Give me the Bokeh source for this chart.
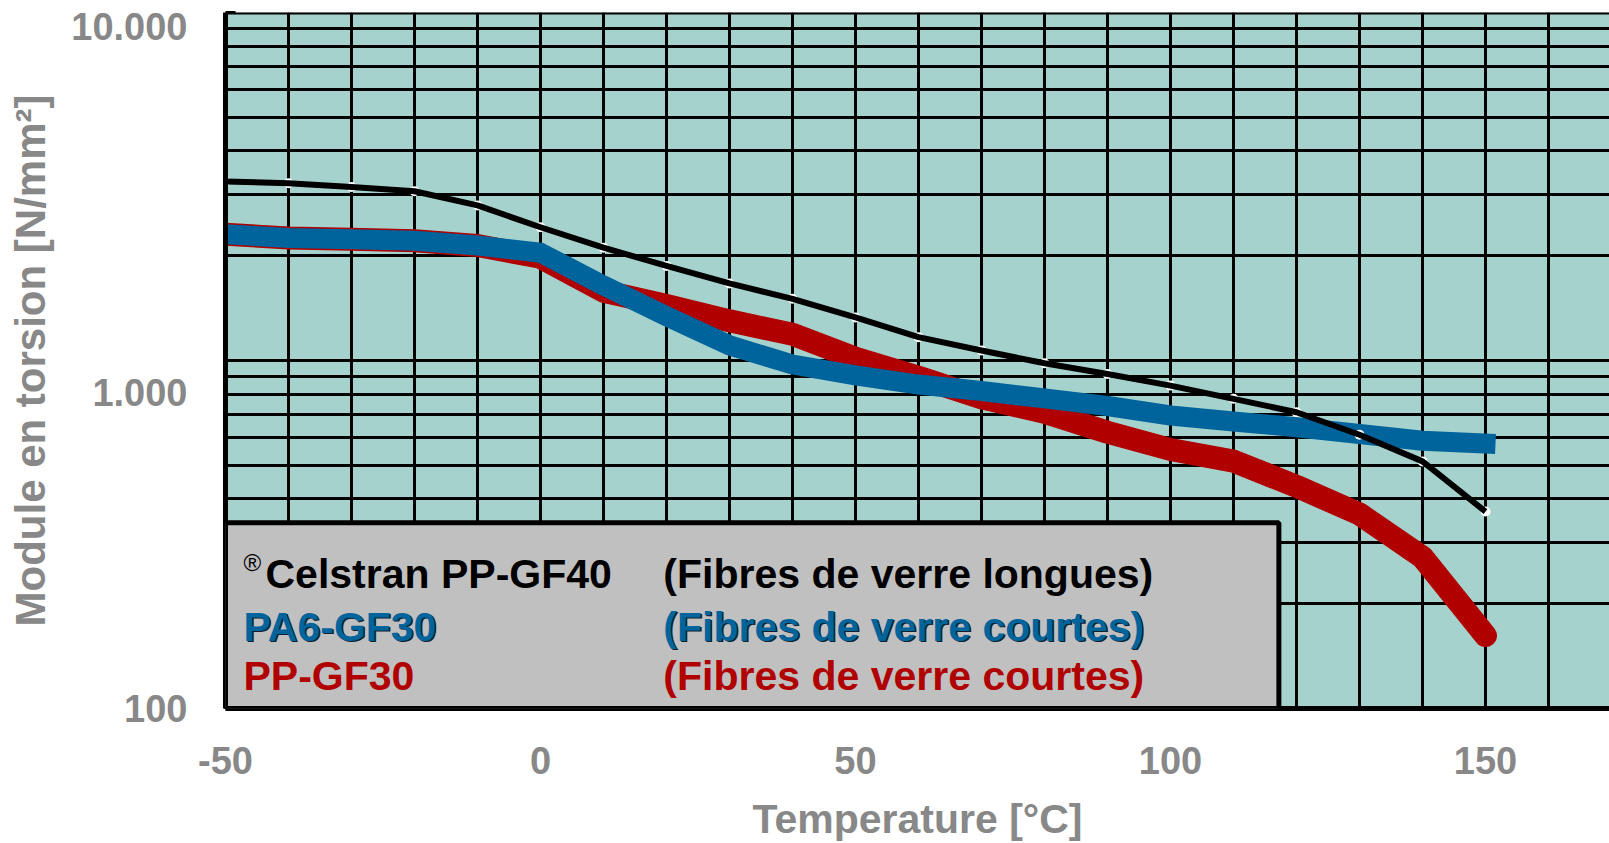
from bokeh.plotting import figure
from bokeh.models import FixedTicker, BoxAnnotation, Label, Span, Range1d, LogAxis
from bokeh.embed import file_html
from bokeh.resources import INLINE

# ---------------- data ----------------
temps = [-50, -40, -30, -20, -10, 0, 10, 20, 30, 40, 50,
         60, 70, 80, 90, 100, 110, 120, 130, 140, 150]
celstran_pp_gf40 = [3270, 3230, 3150, 3065, 2790, 2415, 2110, 1870, 1665, 1504, 1330,
                    1167, 1068, 982, 915, 847, 776, 710, 612, 513, 368]
pa6_gf30 = [2305, 2250, 2230, 2208, 2140, 2040, 1642, 1340, 1105, 974, 906,
            853, 817, 778, 740, 695, 668, 643, 615, 588, 577]
pp_gf30 = [2305, 2250, 2230, 2208, 2140, 1980, 1582, 1440, 1300, 1190, 1015,
           895, 781, 710, 622, 555, 514, 435, 362, 272, 162]

x_ticks = [-50, 0, 50, 100, 150]
x_tick_labels = {-50: "-50", 0: "0", 50: "50", 100: "100", 150: "150"}
x_grid = list(range(-50, 171, 10))
y_ticks = [100, 1000, 10000]
y_tick_texts = ["100", "1.000", "10.000"]
y_minor = [200, 300, 400, 500, 600, 700, 800, 900,
           2000, 3000, 4000, 5000, 6000, 7000, 8000, 9000]

x_title = "Temperature [°C]"
y_title = "Module en torsion [N/mm²]"
legend_names = ["Celstran PP-GF40", "PA6-GF30", "PP-GF30"]
legend_notes = ["(Fibres de verre longues)", "(Fibres de verre courtes)",
                "(Fibres de verre courtes)"]

# ---------------- styles ----------------
TEAL = "#A6D2CD"
BLUE = "#00649C"
RED = "#B00000"
GREY = "#888888"
FONT = "Liberation Sans"
Y_MIN, Y_MAX = 100, 10000
FRAME_H = 696
DECADE_PX = FRAME_H / 2.0
# the reference prints its upper y tick labels a little below their grid lines
# (pixels; the bottom one stays just inside the range so it is drawn)
LABEL_DROP_PX = [-0.2, 32, 14]
label_pos = [v * 10 ** (-d / DECADE_PX) for v, d in zip(y_ticks, LABEL_DROP_PX)]

p = figure(frame_width=1384, frame_height=FRAME_H,
           x_range=Range1d(-50, 169.68), y_range=Range1d(Y_MIN, Y_MAX),
           y_axis_type="log", output_backend="svg", toolbar_location=None,
           min_border_left=225, min_border_right=0, min_border_top=12,
           min_border_bottom=130,
           background_fill_color=TEAL, border_fill_color="white",
           outline_line_color=None)

# grid
p.xgrid.ticker = FixedTicker(ticks=x_grid)
p.ygrid.ticker = FixedTicker(ticks=sorted(y_ticks + y_minor))
for g in (p.xgrid, p.ygrid):
    g.grid_line_color = "black"
    g.grid_line_width = 3

# axes
p.xaxis.ticker = FixedTicker(ticks=x_ticks, minor_ticks=x_grid)
p.xaxis.major_label_overrides = x_tick_labels
p.yaxis.ticker = FixedTicker(ticks=y_ticks, minor_ticks=y_minor)
for ax in (p.xaxis, p.yaxis):
    ax.axis_line_color = "black"
    ax.axis_line_width = 5
    ax.major_tick_in = 10
    ax.major_tick_out = 0
    ax.minor_tick_in = 10
    ax.minor_tick_out = 0
    ax.major_tick_line_width = 3
    ax.minor_tick_line_width = 3
    ax.major_tick_line_color = "black"
    ax.minor_tick_line_color = "black"
    ax.major_label_text_font = FONT
    ax.major_label_text_font_style = "bold"
    ax.major_label_text_font_size = "38px"
    ax.major_label_text_color = GREY
    ax.axis_label_text_font = FONT
    ax.axis_label_text_font_style = "bold"
    ax.axis_label_text_color = GREY

p.xaxis.axis_label = x_title
p.xaxis.axis_label_text_font_size = "41px"
p.xaxis.major_label_standoff = 38
p.xaxis.axis_label_standoff = 19

# main y axis: line + ticks only; the labels come from a label axis next to it
p.yaxis.major_label_text_color = None
p.yaxis.major_label_standoff = 0

ylab = LogAxis(ticker=FixedTicker(ticks=label_pos, minor_ticks=[]),
               major_label_overrides=dict(zip(label_pos, y_tick_texts)),
               axis_line_color=None, major_tick_line_color=None,
               minor_tick_line_color=None, major_tick_out=0, minor_tick_out=0,
               major_tick_in=0, minor_tick_in=0,
               major_label_standoff=38,
               major_label_text_font=FONT, major_label_text_font_style="bold",
               major_label_text_font_size="38px", major_label_text_color=GREY,
               axis_label=y_title, axis_label_text_font=FONT,
               axis_label_text_font_style="bold", axis_label_text_font_size="42px",
               axis_label_text_color=GREY, axis_label_standoff=14)
p.add_layout(ylab, "left")

# top frame edge
p.add_layout(Span(location=Y_MAX, dimension="width", line_color="black", line_width=4))

# curves
p.line(temps, pp_gf30, line_color=RED, line_width=23, line_cap="round", line_join="round")
p.line(temps, pa6_gf30, line_color=BLUE, line_width=20, line_cap="square", line_join="round")
p.scatter(temps, celstran_pp_gf40, size=10, fill_color="white", line_color=None)
p.line(temps, celstran_pp_gf40, line_color="black", line_width=6, line_join="round")

# legend box
p.add_layout(BoxAnnotation(left=-50, right=117.2, bottom=Y_MIN, top=342,
                           fill_color="#C0C0C0", fill_alpha=1.0,
                           line_color="black", line_width=5, line_alpha=1.0))

col1_x = -43.65
col2_x = 19.5
row_y = [244, 172, 123.6]
row_colors = ["black", BLUE, RED]
LEG_SIZE = "41px"

p.add_layout(Label(x=-47.14, y=263, text="®", text_font=FONT, text_font_size="24px",
                   text_color="black", text_baseline="alphabetic"))
for name, note, yy, col in zip(legend_names, legend_notes, row_y, row_colors):
    xs = col1_x if col == "black" else -47.14
    if col == BLUE:
        for xx, tt in ((xs, name), (col2_x, note)):
            p.add_layout(Label(x=xx, y=yy, text=tt, text_font=FONT, text_font_size=LEG_SIZE,
                               text_font_style="bold", text_color="#10222e",
                               text_baseline="alphabetic", x_offset=1.5, y_offset=-1.5))
    p.add_layout(Label(x=xs, y=yy, text=name, text_font=FONT, text_font_size=LEG_SIZE,
                       text_font_style="bold", text_color=col, text_baseline="alphabetic"))
    p.add_layout(Label(x=col2_x, y=yy, text=note, text_font=FONT, text_font_size=LEG_SIZE,
                       text_font_style="bold", text_color=col, text_baseline="alphabetic"))

open("out.html", "w").write(file_html(p, INLINE))
